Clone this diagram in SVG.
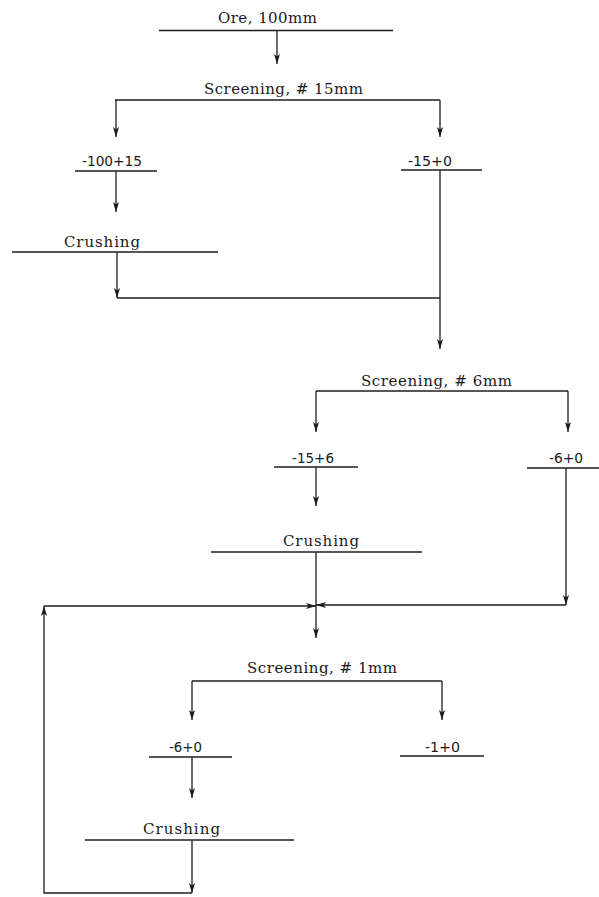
<svg xmlns="http://www.w3.org/2000/svg" width="599" height="897" viewBox="0 0 599 897">
<defs>
<marker id="ah" markerUnits="userSpaceOnUse" markerWidth="11" markerHeight="7" refX="10" refY="3.5" orient="auto">
<path d="M0,0.5 L10,3.5 L0,6.5 L2.5,3.5 z" fill="#1a1a1a"/>
</marker>
<style>
.ln{stroke:#1e1e1e;stroke-width:1.4;fill:none}
.cn{stroke:#1e1e1e;stroke-width:1.3;fill:none;marker-end:url(#ah)}
.cp{stroke:#1e1e1e;stroke-width:1.3;fill:none}
.t{font-family:"DejaVu Serif","Liberation Serif",serif;font-size:15px;fill:#1a1a1a}
.n{font-family:"DejaVu Sans Condensed","Liberation Sans Narrow","Liberation Sans",sans-serif;font-size:13.5px;fill:#1a1a1a}
</style>
</defs>
<rect width="599" height="897" fill="#ffffff"/>

<g id="ore">
<text class="t" x="218" y="23" textLength="99" lengthAdjust="spacing">Ore, 100mm</text>
<line class="ln" x1="159" y1="30.5" x2="393" y2="30.5"/>
</g>
<g id="screen15">
<text class="t" x="204" y="94" textLength="159" lengthAdjust="spacing">Screening, # 15mm</text>
<line class="ln" x1="115" y1="100" x2="440" y2="100"/>
</g>
<g id="p100_15">
<text class="n" x="82" y="166" textLength="60" lengthAdjust="spacingAndGlyphs">-100+15</text>
<line class="ln" x1="75" y1="171" x2="157" y2="171"/>
</g>
<g id="m15_0">
<text class="n" x="408" y="166" textLength="44" lengthAdjust="spacingAndGlyphs">-15+0</text>
<line class="ln" x1="401" y1="170" x2="482" y2="170"/>
</g>
<g id="crush1">
<text class="t" x="64" y="247" textLength="76" lengthAdjust="spacing">Crushing</text>
<line class="ln" x1="12" y1="252" x2="218" y2="252"/>
</g>
<g id="screen6">
<text class="t" x="361" y="386" textLength="151" lengthAdjust="spacing">Screening, # 6mm</text>
<line class="ln" x1="316" y1="391" x2="568" y2="391"/>
</g>
<g id="m15_6">
<text class="n" x="292" y="463" textLength="42" lengthAdjust="spacingAndGlyphs">-15+6</text>
<line class="ln" x1="274" y1="467" x2="358" y2="467"/>
</g>
<g id="m6_0a">
<text class="n" x="549" y="463" textLength="34" lengthAdjust="spacingAndGlyphs">-6+0</text>
<line class="ln" x1="527" y1="468" x2="599" y2="468"/>
</g>
<g id="crush2">
<text class="t" x="283" y="546" textLength="76" lengthAdjust="spacing">Crushing</text>
<line class="ln" x1="211" y1="552" x2="422" y2="552"/>
</g>
<g id="screen1">
<text class="t" x="247" y="673" textLength="150" lengthAdjust="spacing">Screening, # 1mm</text>
<line class="ln" x1="192" y1="681" x2="442" y2="681"/>
</g>
<g id="m6_0b">
<text class="n" x="169" y="752" textLength="33" lengthAdjust="spacingAndGlyphs">-6+0</text>
<line class="ln" x1="149" y1="757" x2="232" y2="757"/>
</g>
<g id="m1_0">
<text class="n" x="425" y="752" textLength="35" lengthAdjust="spacingAndGlyphs">-1+0</text>
<line class="ln" x1="400" y1="756" x2="484" y2="756"/>
</g>
<g id="crush3">
<text class="t" x="143" y="834" textLength="77" lengthAdjust="spacing">Crushing</text>
<line class="ln" x1="85" y1="840" x2="294" y2="840"/>
</g>

<g id="connectors">
<path class="cn" d="M277,31 V64"/>
<path class="cn" d="M116,100 V137"/>
<path class="cn" d="M440,100 V137"/>
<path class="cn" d="M116,171 V212"/>
<path class="cn" d="M117,252 V298"/>
<path class="cp" d="M117,298 H440"/>
<path class="cn" d="M440,170 V349"/>
<path class="cn" d="M316,391 V432"/>
<path class="cn" d="M568,391 V432"/>
<path class="cn" d="M316,467 V506"/>
<path class="cn" d="M316,552 V638"/>
<path class="cn" d="M566,468 V605"/>
<path class="cn" d="M566,605 H316"/>
<path class="cn" d="M192,681 V720"/>
<path class="cn" d="M442,681 V720"/>
<path class="cn" d="M192,757 V798"/>
<path class="cn" d="M192,840 V893"/>
<path class="cn" d="M192,893 H44 V606"/>
<path class="cn" d="M44,606 H316"/>
</g>
</svg>
